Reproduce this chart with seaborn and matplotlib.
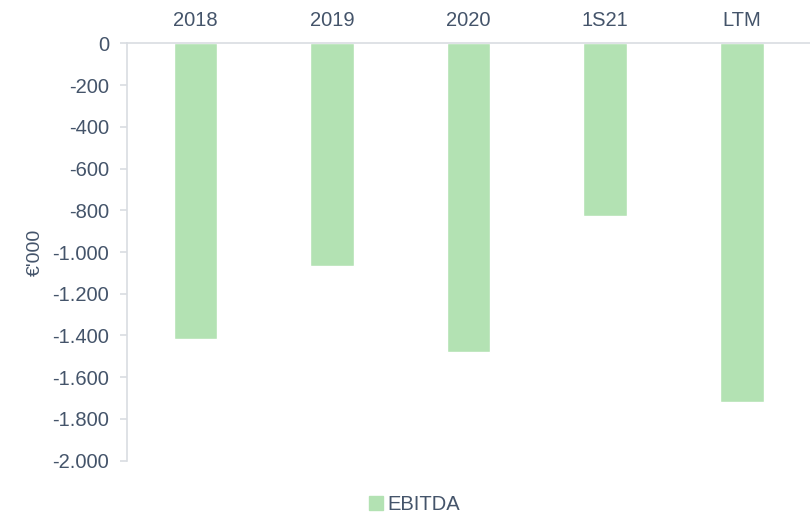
import matplotlib
matplotlib.use("Agg")
import matplotlib.pyplot as plt
import matplotlib.ticker as mticker
from matplotlib.patches import Patch
import seaborn as sns
import pandas as pd

periods = ["2018", "2019", "2020", "1S21", "LTM"]
ebitda = [-1415, -1065, -1478, -826, -1718]
y_ticks = list(range(0, -2001, -200))

BAR = "#b3e2b3"
TXT = "#44546a"
AXC = "#d9dde2"

sns.set_style("white")
plt.rcParams["font.family"] = ["Liberation Sans", "DejaVu Sans"]

df = pd.DataFrame({"period": periods, "ebitda": ebitda})

fig = plt.figure(figsize=(8.1, 5.17), dpi=100)
ax = fig.add_axes([0.157, 0.109, 0.843, 0.807])
sns.barplot(data=df, x="period", y="ebitda", color=BAR, width=0.32,
            saturation=1, ax=ax)

ax.set_ylim(-2000, 0)
ax.set_yticks(y_ticks)
ax.yaxis.set_major_formatter(
    mticker.FuncFormatter(lambda v, _: f"{int(v):,}".replace(",", ".")))
ax.xaxis.tick_top()
ax.set_xlabel("")
ax.set_ylabel("€'000", fontsize=14, color=TXT, labelpad=6)

for s in ["right", "bottom"]:
    ax.spines[s].set_visible(False)
for s in ["top", "left"]:
    ax.spines[s].set_color(AXC)
    ax.spines[s].set_linewidth(1.2)

ax.tick_params(axis="x", length=0, pad=10, labelsize=14.5, colors=TXT)
ax.tick_params(axis="y", length=5, width=1.2, color=AXC, labelsize=14.5,
               labelcolor=TXT, pad=8, left=True)

fig.legend(handles=[Patch(color=BAR, label="EBITDA")], loc="lower center",
           bbox_to_anchor=(0.512, -0.03), frameon=False, fontsize=14.5,
           handlelength=0.7, handleheight=0.7, handletextpad=0.2,
           labelcolor=TXT)

fig.savefig("out.png", dpi=100)
